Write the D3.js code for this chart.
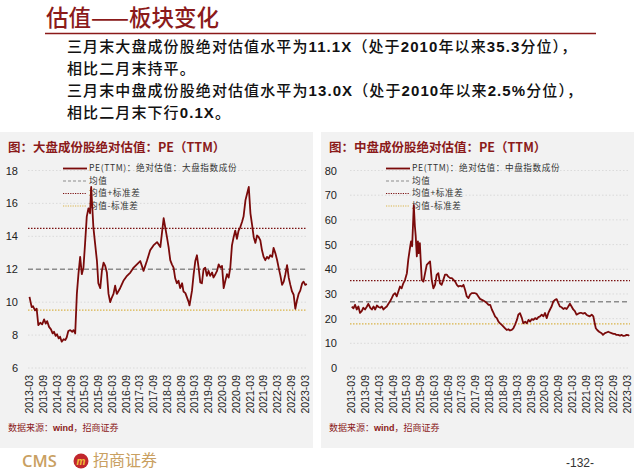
<!DOCTYPE html>
<html><head><meta charset="utf-8">
<script src="https://cdn.jsdelivr.net/npm/d3@7/dist/d3.min.js"></script>
<style>
html,body{margin:0;padding:0;background:#fff;}
svg{display:block;}
</style></head>
<body>
<svg id="c" width="640" height="471"></svg>
<script>
// ---------- DATA ----------
const xTickLabels = ["2013-03","2013-09","2014-03","2014-09","2015-03","2015-09","2016-03","2016-09","2017-03","2017-09","2018-03","2018-09","2019-03","2019-09","2020-03","2020-09","2021-03","2021-09","2022-03","2022-09","2023-03"];
const leftYTicks = [6,8,10,12,14,16,18];
const rightYTicks = [0,10,20,30,40,50,60,70,80];

// 大盘成份 PE(TTM), time as decimal year
const leftTimes = [2013.18,2013.22,2013.26,2013.31,2013.38,2013.44,2013.50,2013.57,2013.64,2013.71,2013.77,2013.82,2013.89,2013.96,2014.02,2014.07,2014.13,2014.18,2014.24,2014.29,2014.35,2014.42,2014.48,2014.53,2014.59,2014.66,2014.73,2014.78,2014.84,2014.90,2014.96,2015.02,2015.08,2015.14,2015.20,2015.26,2015.32,2015.38,2015.42,2015.46,2015.50,2015.56,2015.63,2015.68,2015.75,2015.81,2015.87,2015.93,2015.99,2016.05,2016.11,2016.15,2016.23,2016.29,2016.35,2016.47,2016.59,2016.72,2016.84,2016.96,2017.08,2017.20,2017.32,2017.44,2017.56,2017.68,2017.81,2017.93,2018.05,2018.17,2018.23,2018.29,2018.35,2018.41,2018.47,2018.53,2018.59,2018.65,2018.72,2018.77,2018.84,2018.96,2018.99,2019.08,2019.14,2019.20,2019.26,2019.32,2019.38,2019.44,2019.50,2019.56,2019.62,2019.68,2019.74,2019.81,2019.86,2019.93,2019.99,2020.05,2020.11,2020.17,2020.23,2020.29,2020.35,2020.41,2020.47,2020.53,2020.59,2020.65,2020.71,2020.77,2020.83,2020.90,2020.95,2021.02,2021.08,2021.14,2021.20,2021.26,2021.32,2021.38,2021.44,2021.50,2021.56,2021.62,2021.68,2021.74,2021.80,2021.86,2021.92,2021.99,2022.04,2022.11,2022.17,2022.23,2022.29,2022.35,2022.41,2022.47,2022.53,2022.59,2022.65,2022.71,2022.77,2022.83,2022.89,2022.95,2023.01,2023.08,2023.13,2023.19,2023.25];
const leftValues = [10.32,10.0,9.7,9.75,9.5,9.6,8.6,8.75,8.65,8.95,8.7,8.85,8.5,8.35,8.1,8.2,7.95,8.05,7.8,7.9,7.6,7.75,7.7,7.85,8.25,8.3,8.2,8.3,8.1,10.5,11.75,12.75,11.7,12.1,13.6,15.2,15.7,15.4,17.0,15.8,14.56,13.6,12.5,11.15,10.85,11.9,12.4,12.2,11.8,10.5,10.0,10.2,10.5,11.0,10.5,10.85,11.3,11.6,11.8,12.1,12.3,12.5,11.9,12.5,13.15,13.45,13.65,13.35,15.1,13.95,13.35,12.55,12.3,12.1,11.45,11.15,11.3,10.85,11.15,10.65,10.55,10.0,9.8,10.7,11.7,12.5,12.85,12.1,11.2,11.15,12.0,12.1,11.6,11.9,11.6,11.8,11.5,11.7,11.9,12.3,12.1,12.2,10.85,11.3,11.7,11.5,12.1,13.45,13.95,14.35,13.85,14.35,14.55,14.9,15.2,16.2,16.6,17.0,15.4,14.7,13.95,13.6,14.05,13.95,13.75,13.15,12.75,12.55,12.75,12.65,12.85,12.75,13.3,12.95,12.55,12.05,11.6,11.05,11.25,11.7,12.25,11.5,11.05,10.65,10.45,9.6,10.1,10.5,10.7,11.15,11.25,11.05,11.1];
const leftStats = {mean:12.0, plus:14.48, minus:9.52};

// 中盘成份 PE(TTM)
const rightTimes = [2013.19,2013.25,2013.31,2013.37,2013.43,2013.49,2013.55,2013.61,2013.67,2013.74,2013.79,2013.86,2013.92,2013.98,2014.04,2014.10,2014.16,2014.22,2014.28,2014.34,2014.40,2014.46,2014.52,2014.58,2014.64,2014.70,2014.76,2014.82,2014.88,2014.94,2015.00,2015.06,2015.12,2015.19,2015.24,2015.31,2015.34,2015.38,2015.41,2015.44,2015.48,2015.51,2015.55,2015.59,2015.62,2015.66,2015.69,2015.73,2015.79,2015.85,2015.91,2015.97,2016.03,2016.09,2016.15,2016.21,2016.27,2016.33,2016.39,2016.45,2016.51,2016.57,2016.64,2016.69,2016.76,2016.82,2016.88,2016.94,2017.00,2017.06,2017.12,2017.18,2017.24,2017.30,2017.36,2017.42,2017.48,2017.54,2017.60,2017.66,2017.72,2017.78,2017.84,2017.91,2017.96,2018.03,2018.09,2018.15,2018.21,2018.27,2018.33,2018.39,2018.45,2018.51,2018.57,2018.63,2018.69,2018.75,2018.81,2018.87,2018.93,2018.99,2019.05,2019.11,2019.18,2019.23,2019.29,2019.36,2019.41,2019.48,2019.54,2019.60,2019.66,2019.72,2019.78,2019.84,2019.90,2019.96,2020.02,2020.08,2020.14,2020.20,2020.26,2020.32,2020.38,2020.44,2020.50,2020.56,2020.62,2020.68,2020.74,2020.80,2020.86,2020.92,2020.98,2021.04,2021.10,2021.16,2021.22,2021.28,2021.34,2021.40,2021.46,2021.52,2021.58,2021.65,2021.70,2021.76,2021.82,2021.89,2021.95,2022.00,2022.04,2022.09,2022.16,2022.25,2022.30,2022.37,2022.43,2022.49,2022.55,2022.61,2022.68,2022.74,2022.79,2022.85,2022.92,2022.98,2023.04,2023.10,2023.16,2023.22,2023.25];
const rightValues = [24.9,24.2,25.6,23.7,24.9,22.3,23.0,24.4,23.7,24.9,26.0,24.4,23.7,24.9,23.7,25.3,24.7,24.4,24.9,23.7,24.4,24.9,26.0,27.0,28.3,29.7,30.3,29.0,31.0,33.0,32.3,34.3,35.6,38.4,43.9,49.3,51.3,49.3,57.4,66.0,57.4,53.4,45.2,51.3,46.5,50.6,43.9,35.7,35.0,38.4,41.8,42.5,43.2,35.7,32.3,33.7,37.7,38.4,34.3,33.7,35.7,37.8,37.8,37.0,36.4,36.4,35.7,35.0,33.7,33.0,33.3,33.0,33.7,31.6,29.0,28.3,29.7,30.3,30.3,30.3,30.0,29.0,28.0,27.6,27.3,26.8,26.3,25.6,25.6,23.7,22.3,20.8,20.2,18.8,18.1,17.5,16.8,16.1,15.4,15.7,15.2,15.4,16.1,17.5,19.5,21.6,22.2,20.2,18.1,18.8,18.1,19.5,18.8,19.8,19.5,20.2,19.8,20.6,20.9,21.6,20.9,22.3,20.2,22.3,23.7,25.0,27.0,27.6,27.9,26.3,24.9,24.6,23.9,24.3,23.9,24.9,26.0,24.9,23.7,23.0,21.6,22.0,22.3,22.3,22.0,22.3,21.6,21.2,20.9,21.6,20.9,18.1,16.1,15.4,14.7,14.1,13.4,14.1,14.4,14.7,14.4,14.1,13.8,13.8,13.4,13.4,13.1,13.4,13.0,13.1,13.4,13.3,13.0];
const rightStats = {mean:26.8, plus:35.4, minus:17.9};

// ---------- DRAW ----------
const svg = d3.select("#c");
const RED = "#8b1a1a", LINE = "#7a0a0a";
const cjk = "'Noto Sans CJK SC','Noto Sans',sans-serif";
const lat = "'Liberation Sans',Arial,sans-serif";

function toDate(y){const yr=Math.floor(y);const s=new Date(yr,0,1),e=new Date(yr+1,0,1);return new Date(+s+(y-yr)*(e-s));}
const parseM = d3.timeParse("%Y-%m");

// header
svg.append("text").attr("x",46).attr("y",26).attr("font-family",cjk).attr("font-size",22.5).attr("font-weight",500)
  .attr("fill",RED).text("估值——板块变化");
svg.append("line").attr("x1",45).attr("x2",596).attr("y1",33.5).attr("y2",33.5).attr("stroke",RED).attr("stroke-width",1.5);

const paras = [
  [["三月末大盘成份股绝对估值水平为",0],["11.1X",1],["（处于",0],["2010",1],["年以来",0],["35.3",1],["分位），",0]],
  [["相比二月末持平。",0]],
  [["三月末中盘成份股绝对估值水平为",0],["13.0X",1],["（处于",0],["2010",1],["年以来",0],["2.5%",1],["分位），",0]],
  [["相比二月末下行",0],["0.1X",1],["。",0]]
];
const paraY = [52,74,96,118];
paras.forEach((p,i)=>{
  const t = svg.append("text").attr("x",67).attr("y",paraY[i]).attr("font-size",15).attr("letter-spacing",1.1).attr("fill","#111");
  p.forEach(([s,b])=>{
    t.append("tspan").attr("font-family", b? lat : cjk).attr("font-weight", b?700:500).text(s);
  });
});

function panel(opt){
  const g = svg.append("g");
  g.append("rect").attr("x",opt.px).attr("y",132).attr("width",opt.pw).attr("height",316).attr("fill","#f2f2f2");
  g.append("text").attr("x",opt.px+8).attr("y",152).attr("font-family",cjk).attr("font-size",12.5).attr("font-weight",700)
    .attr("fill",RED).text(opt.title);
  const x = d3.scaleTime().domain([new Date(2013,2,1), new Date(2023,2,31)]).range([opt.x0,opt.x1]);
  const y = d3.scaleLinear().domain(opt.yDomain).range([368,170.5]);
  // grid
  g.append("g").selectAll("line").data(opt.yTicks).join("line")
    .attr("x1",opt.gx0).attr("x2",opt.gx1).attr("y1",d=>y(d)).attr("y2",d=>y(d))
    .attr("stroke","#d4d4d4").attr("stroke-width",0.8).attr("stroke-dasharray","1.5,2");
  // y axis
  const ya = g.append("g").attr("transform",`translate(${opt.yLabelX},0)`)
    .call(d3.axisLeft(y).tickValues(opt.yTicks).tickSize(0).tickFormat(d3.format("d")));
  ya.select(".domain").remove();
  ya.selectAll("text").attr("font-family",lat).attr("font-size",11).attr("fill","#222").attr("dx",0);
  // x axis
  const xa = g.append("g").attr("transform","translate(0,373)")
    .call(d3.axisBottom(x).tickValues(xTickLabels.map(parseM)).tickSize(0).tickFormat(d3.timeFormat("%Y-%m")));
  xa.select(".domain").remove();
  xa.selectAll("text").attr("font-family",lat).attr("font-size",10.5).attr("fill","#222")
    .attr("transform","rotate(-90)").attr("text-anchor","end").attr("x",-2).attr("y",0).attr("dy","0.35em");
  // stat lines
  const stats = [
    {v:opt.stats.mean, c:"#8c8c8c", d:"5,3", w:1.5},
    {v:opt.stats.plus, c:"#7a1010", d:"1.5,1.5", w:1.3},
    {v:opt.stats.minus, c:"#d9b44a", d:"1.5,1.5", w:1.3}
  ];
  g.append("g").selectAll("line").data(stats).join("line")
    .attr("x1",opt.gx0).attr("x2",opt.gx1).attr("y1",d=>y(d.v)).attr("y2",d=>y(d.v))
    .attr("stroke",d=>d.c).attr("stroke-width",d=>d.w).attr("stroke-dasharray",d=>d.d);
  // legend
  const leg = [
    {t:opt.legend, c:LINE, d:null, w:1.8},
    {t:"均值", c:"#8c8c8c", d:"3,2", w:1.2},
    {t:"均值+标准差", c:"#7a1010", d:"1.2,1.2", w:1.2},
    {t:"均值-标准差", c:"#d9b44a", d:"1.2,1.2", w:1.2}
  ];
  const ly = [168.5,181,193.5,206];
  leg.forEach((l,i)=>{
    g.append("line").attr("x1",opt.lx).attr("x2",opt.lx+24).attr("y1",ly[i]).attr("y2",ly[i])
      .attr("stroke",l.c).attr("stroke-width",l.w).attr("stroke-dasharray",l.d);
    g.append("text").attr("x",opt.lx+26).attr("y",ly[i]).attr("dy","0.34em").attr("font-family",cjk)
      .attr("font-size",8.6).attr("letter-spacing",0.6).attr("fill","#333").text(l.t);
  });
  // series
  const data = opt.times.map((t,i)=>({d:toDate(t), v:opt.values[i]}));
  g.append("path").datum(data).attr("fill","none").attr("stroke",LINE).attr("stroke-width",1.8)
    .attr("stroke-linejoin","round")
    .attr("d", d3.line().x(d=>x(d.d)).y(d=>y(d.v)));
  // source
  const s = g.append("text").attr("x",opt.px+8).attr("y",431).attr("font-size",9).attr("fill",RED).attr("font-family",cjk);
  s.append("tspan").text("数据来源：");
  s.append("tspan").attr("font-family",lat).attr("font-weight",700).text("wind");
  s.append("tspan").text("，招商证券");
}

panel({px:0,pw:313,title:"图：大盘成份股绝对估值：PE（TTM）",x0:29,x1:306.7,gx0:28,gx1:307,
  yDomain:[6,18],yTicks:leftYTicks,yLabelX:21,stats:leftStats,lx:63,
  legend:"PE(TTM)：绝对估值：大盘指数成份",times:leftTimes,values:leftValues});
panel({px:321,pw:313,title:"图：中盘成份股绝对估值：PE（TTM）",x0:351,x1:629,gx0:350,gx1:630,
  yDomain:[0,80],yTicks:rightYTicks,yLabelX:340,stats:rightStats,lx:386,
  legend:"PE(TTM)：绝对估值：中盘指数成份",times:rightTimes,values:rightValues});

// footer
svg.append("text").attr("x",22).attr("y",467).attr("font-family","'Open Sans',sans-serif").attr("font-size",16.5)
  .attr("font-weight",600).attr("fill","#c9a061").text("CMS");
svg.append("circle").attr("cx",81).attr("cy",461).attr("r",7.5).attr("fill","#c1272d");
svg.append("text").attr("x",81).attr("y",465).attr("text-anchor","middle").attr("font-family",lat).attr("font-size",10)
  .attr("font-weight",700).attr("font-style","italic").attr("fill","#f2c23a").text("m");
svg.append("text").attr("x",93).attr("y",466).attr("font-family",cjk).attr("font-size",16)
  .attr("fill","#c9a061").text("招商证券");
svg.append("text").attr("x",566).attr("y",467).attr("font-family",lat).attr("font-size",12)
  .attr("fill","#333").text("-132-");
</script>
</body></html>
